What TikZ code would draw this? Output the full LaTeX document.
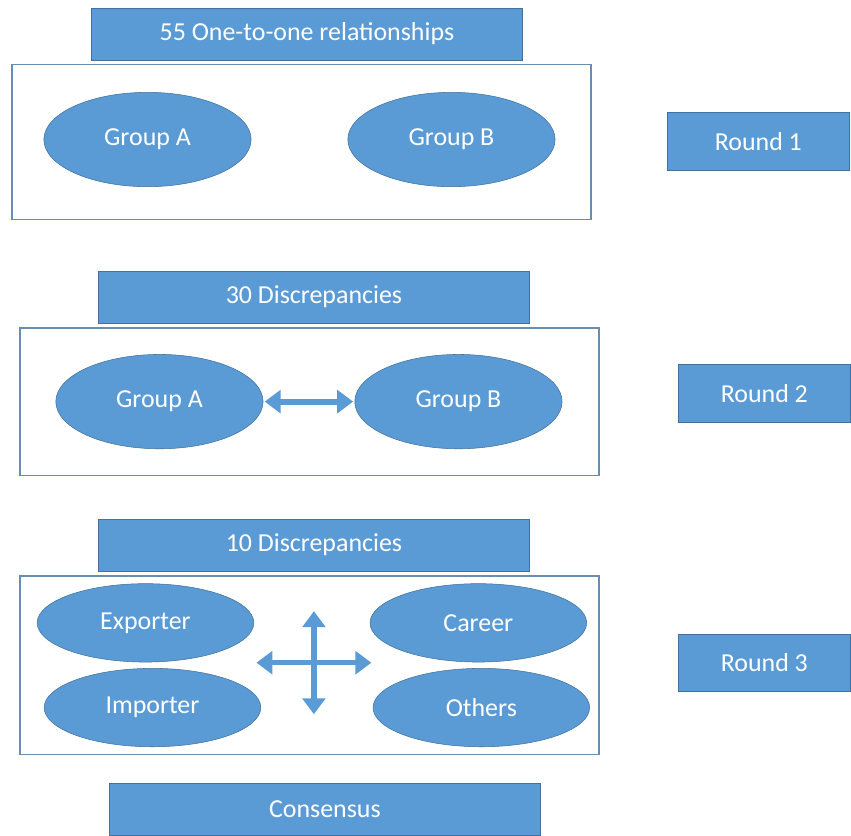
\documentclass[tikz,border=0pt]{standalone}
\usepackage{fontspec}
\setmainfont{Carlito}
\definecolor{boxblue}{RGB}{91, 155, 213}
\definecolor{edgeblue}{RGB}{65, 113, 156}
\usetikzlibrary{shapes.geometric, arrows.meta}

\begin{document}
\begin{tikzpicture}[
      x=0.75pt, y=-0.75pt,
      font=\fontsize{19.5}{22}\selectfont,
      bar/.style={draw=edgeblue, fill=boxblue, text=white, minimum width=324pt, minimum height=39pt, inner sep=0pt},
      roundbox/.style={draw=edgeblue, fill=boxblue, text=white, minimum width=130pt, minimum height=43.5pt, inner sep=0pt},
      group/.style={ellipse, draw=edgeblue, fill=boxblue, text=white, minimum width=156pt, minimum height=71pt, inner sep=0pt},
      frame/.style={draw=edgeblue!80, line width=1pt},
      bigarrow/.style={{Triangle[width=17pt,length=12pt]}-{Triangle[width=17pt,length=12pt]}, line width=4.5pt, draw=boxblue, shorten >=1pt, shorten <=1pt}
    ]
      \fill[white] (0,0) rectangle (851,837);

      % Round 1
      \node[bar] (title1) at (308,34) {55 One-to-one relationships};
      \draw[frame] (12,65) rectangle (593,220);
      \node[group] (groupa1) at (148,140) {Group A};
      \node[group] (groupb1) at (453,140) {Group B};
      \node[roundbox, minimum width=137pt] (round1) at (761,142) {Round 1};

      % Round 2
      \node[bar] (title2) at (315,298) {30 Discrepancies};
      \draw[frame] (20,329) rectangle (601,477);
      \node[group] (groupa2) at (160,403) {Group A};
      \node[group] (groupb2) at (460,403) {Group B};
      \node[roundbox] (round2) at (767,395) {Round 2};
      \draw[bigarrow] (groupa2) -- (groupb2);

      % Round 3
      \node[bar] (title3) at (315,547) {10 Discrepancies};
      \draw[frame] (20,578) rectangle (601,757);
      \node[group, minimum width=163pt, minimum height=59pt] (exporter) at (146,625) {Exporter};
      \node[group, minimum width=163pt, minimum height=59pt] (career) at (480,625) {Career};
      \node[group, minimum width=163pt, minimum height=59pt] (importer) at (153,710) {Importer};
      \node[group, minimum width=163pt, minimum height=59pt] (others) at (483,710) {Others};
      \node[roundbox] (round3) at (767,665) {Round 3};
      \coordinate (crossw) at (256,665);
      \coordinate (crosse) at (374,665);
      \coordinate (crossn) at (315,612);
      \coordinate (crosss) at (315,718);
      \draw[bigarrow, line width=4pt] (crossw) -- (crosse);
      \draw[bigarrow, line width=4pt] (crossn) -- (crosss);

      % Consensus
      \node[bar] (consensus) at (326,812) {Consensus};
    \end{tikzpicture}
\end{document}
